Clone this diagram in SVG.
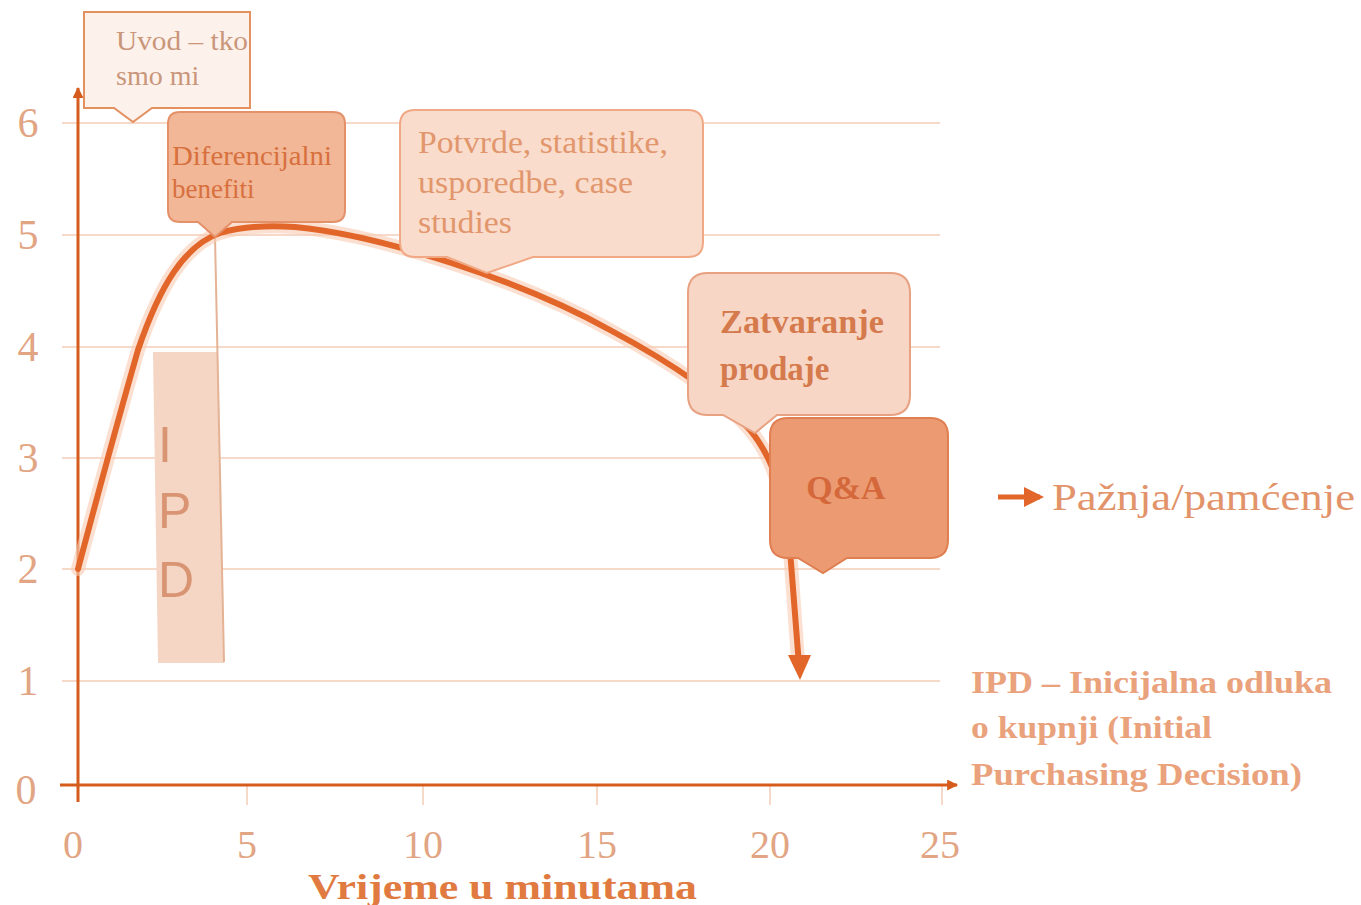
<svg xmlns="http://www.w3.org/2000/svg" width="1361" height="905" viewBox="0 0 1361 905">
<style>
.grid{stroke:#f7d9ca;stroke-width:2;fill:none}
.tick{font-family:"Liberation Serif",serif;font-size:42px;fill:#e2a584}
.xtick{font-family:"Liberation Serif",serif;font-size:40px;fill:#e2a584}
.axis{stroke:#d65c1e;stroke-width:3;fill:none}
.serif{font-family:"Liberation Serif",serif}
</style>
<defs>
<marker id="ah" viewBox="0 0 10 10" refX="9" refY="5" markerWidth="13" markerHeight="11" orient="auto" markerUnits="userSpaceOnUse">
<path d="M0,0 L10,5 L0,10 Z" fill="#d65c1e"/>
</marker>
<marker id="ah2" viewBox="0 0 10 10" refX="8" refY="5" markerWidth="4" markerHeight="4" orient="auto">
<path d="M0,0 L10,5 L0,10 Z" fill="#e2662a"/>
</marker>
</defs>
<rect width="1361" height="905" fill="#ffffff"/>
<g id="grid">
<line class="grid" x1="62" y1="123" x2="940" y2="123"/>
<line class="grid" x1="62" y1="235" x2="940" y2="235"/>
<line class="grid" x1="62" y1="347" x2="940" y2="347"/>
<line class="grid" x1="62" y1="458" x2="940" y2="458"/>
<line class="grid" x1="62" y1="569" x2="940" y2="569"/>
<line class="grid" x1="62" y1="681" x2="940" y2="681"/>
<line class="grid" x1="247" y1="786" x2="247" y2="805"/>
<line class="grid" x1="423" y1="786" x2="423" y2="805"/>
<line class="grid" x1="597" y1="786" x2="597" y2="805"/>
<line class="grid" x1="770" y1="786" x2="770" y2="805"/>
<line class="grid" x1="942" y1="786" x2="942" y2="805"/>
</g>
<g id="y-labels" class="tick" text-anchor="middle">
<text x="28" y="137">6</text>
<text x="28" y="249">5</text>
<text x="28" y="361">4</text>
<text x="28" y="472">3</text>
<text x="28" y="583">2</text>
<text x="28" y="695">1</text>
<text x="26" y="804">0</text>
</g>
<g id="x-labels" class="xtick" text-anchor="middle">
<text x="73" y="858">0</text>
<text x="247" y="858">5</text>
<text x="423" y="858">10</text>
<text x="597" y="858">15</text>
<text x="770" y="858">20</text>
<text x="940" y="858">25</text>
</g>
<g id="ipd-bar">
<polygon points="153,352 218,352 224,663 158,663" fill="#f5d6c5"/>
<line x1="215" y1="237" x2="224" y2="662" stroke="#e4b396" stroke-width="2"/>
<text font-family="'Liberation Sans',sans-serif" font-size="50" fill="#d99573"><tspan x="158" y="462">I</tspan><tspan x="158" y="528">P</tspan><tspan x="158" y="597">D</tspan></text>
</g>
<g id="axes">
<line class="axis" x1="78" y1="802" x2="78" y2="88" marker-end="url(#ah)"/>
<line class="axis" x1="60" y1="785" x2="957" y2="785" marker-end="url(#ah)"/>
</g>
<g id="connectors">
<path d="M78,569 C95,505 118,420 138,350 C160,285 185,245 220,233 C240,227 265,225 295,227 C380,235 520,280 610,330 C670,362 720,395 750,430 C775,460 785,500 790,550 L798,660" fill="none" stroke="#f9cbb3" stroke-width="14" stroke-linecap="round" opacity="0.6"/>
<path d="M78,569 C95,505 118,420 138,350 C160,285 185,245 220,233 C240,227 265,225 295,227 C380,235 520,280 610,330 C670,362 720,395 750,430 C775,460 785,500 790,550 L799,665" fill="none" stroke="#e2662a" stroke-width="6" stroke-linecap="round"/>
<path d="M788,655 L811,655 L800,680 Z" fill="#e2662a"/>
</g>
<g id="callout-uvod">
<path d="M84,12 H250 V108 H152 L133,122 L114,108 H84 Z" fill="#fdf1ec" stroke="#e4905f" stroke-width="2"/>
<text class="serif" font-size="28" fill="#c9967a"><tspan x="116" y="50" textLength="132" lengthAdjust="spacingAndGlyphs">Uvod – tko</tspan><tspan x="116" y="85">smo mi</tspan></text>
</g>
<g id="callout-diferencijalni">
<path d="M180,112 H333 Q345,112 345,124 V210 Q345,222 333,222 H232 L215,237 L198,222 H180 Q168,222 168,210 V124 Q168,112 180,112 Z" fill="#f1b797" stroke="#e4916a" stroke-width="2"/>
<text class="serif" font-size="27" fill="#d8703e"><tspan x="172" y="165" textLength="160" lengthAdjust="spacingAndGlyphs">Diferencijalni</tspan><tspan x="172" y="198">benefiti</tspan></text>
</g>
<g id="callout-potvrde">
<path d="M415,110 H688 Q703,110 703,125 V242 Q703,257 688,257 H533 L487,273 L447,257 H415 Q400,257 400,242 V125 Q400,110 415,110 Z" fill="#f9dccc" stroke="#f1a985" stroke-width="2"/>
<text class="serif" font-size="31" fill="#e2966c"><tspan x="418" y="153" textLength="250" lengthAdjust="spacingAndGlyphs">Potvrde, statistike,</tspan><tspan x="418" y="193" textLength="215" lengthAdjust="spacingAndGlyphs">usporedbe, case</tspan><tspan x="418" y="233" textLength="94" lengthAdjust="spacingAndGlyphs">studies</tspan></text>
</g>
<g id="callout-zatvaranje">
<path d="M708,273 H890 Q910,273 910,293 V395 Q910,415 890,415 H777 L755,433 L723,415 H708 Q688,415 688,395 V293 Q688,273 708,273 Z" fill="#f8d6c6" stroke="#e8a181" stroke-width="2"/>
<text class="serif" font-size="33" font-weight="bold" fill="#d47a4c"><tspan x="720" y="333" textLength="164" lengthAdjust="spacingAndGlyphs">Zatvaranje</tspan><tspan x="720" y="380">prodaje</tspan></text>
</g>
<g id="callout-qa">
<path d="M788,418 H930 Q948,418 948,436 V540 Q948,558 930,558 H847 L823,573 L798,558 H788 Q770,558 770,540 V436 Q770,418 788,418 Z" fill="#eb9a72" stroke="#e07f52" stroke-width="2"/>
<text class="serif" x="846" y="499" font-size="34" font-weight="bold" fill="#d4683a" text-anchor="middle">Q&amp;A</text>
</g>
<g id="legend">
<line x1="998" y1="497" x2="1040" y2="497" stroke="#e2662a" stroke-width="5" marker-end="url(#ah2)"/>
<text class="serif" x="1052" y="510" font-size="38" fill="#e2936a" textLength="303" lengthAdjust="spacingAndGlyphs">Pažnja/pamćenje</text>
</g>
<g id="ipd-note">
<text class="serif" font-size="31" font-weight="bold" fill="#eaa27c"><tspan x="971" y="693" textLength="361" lengthAdjust="spacingAndGlyphs">IPD – Inicijalna odluka</tspan><tspan x="971" y="738" textLength="241" lengthAdjust="spacingAndGlyphs">o kupnji (Initial</tspan><tspan x="971" y="785" textLength="331" lengthAdjust="spacingAndGlyphs">Purchasing Decision)</tspan></text>
</g>
<g id="x-title">
<text class="serif" x="308" y="899" font-size="36" font-weight="bold" fill="#e07a40" textLength="389" lengthAdjust="spacingAndGlyphs">Vrijeme u minutama</text>
</g>
</svg>
